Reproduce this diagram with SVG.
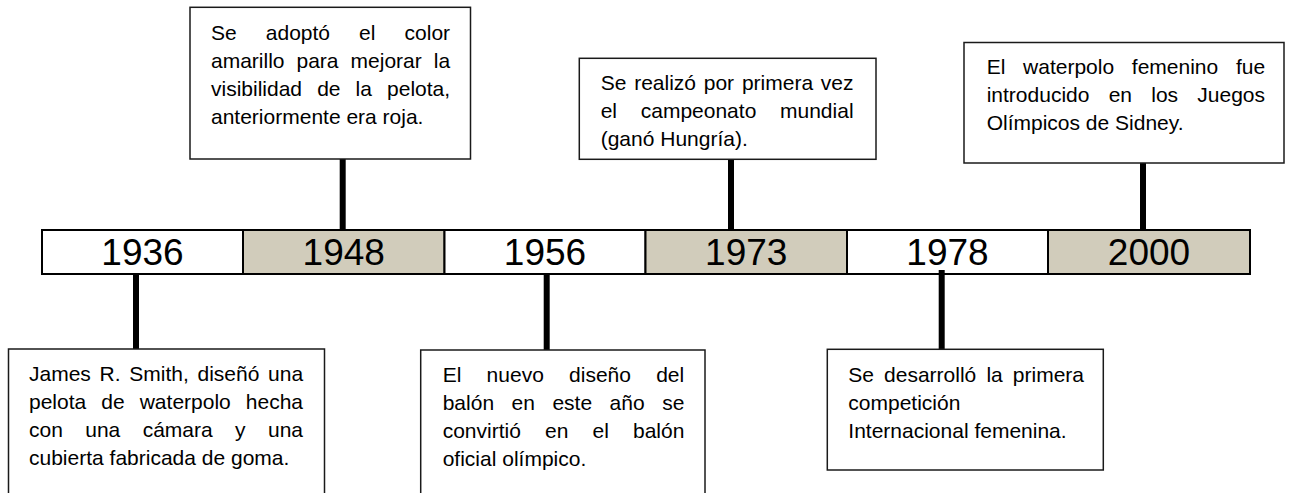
<svg xmlns="http://www.w3.org/2000/svg" width="1290" height="493" viewBox="0 0 1290 493">
<style>
.bg{fill:#ffffff}
.cellw{fill:#ffffff;stroke:#000;stroke-width:2}
.cellb{fill:#d1ccbb;stroke:#000;stroke-width:2}
.year{font-family:"Liberation Sans",Arial,sans-serif;font-size:37px;fill:#000;text-anchor:middle}
.box{fill:#ffffff;stroke:#1a1a1a;stroke-width:1.5}
.txt{font-family:"Liberation Sans",Arial,sans-serif;font-size:21px;fill:#000}
.conn{stroke:#000;stroke-width:6;fill:none}
</style>
<rect class="bg" x="0" y="0" width="1290" height="493"/>

<g id="timeline">
<g id="year-1936"><rect class="cellw" x="42" y="230" width="201" height="44"/><text class="year" x="142.5" y="265">1936</text></g>
<g id="year-1948"><rect class="cellb" x="243" y="230" width="201.5" height="44"/><text class="year" x="343.75" y="265">1948</text></g>
<g id="year-1956"><rect class="cellw" x="444.5" y="230" width="201" height="44"/><text class="year" x="545" y="265">1956</text></g>
<g id="year-1973"><rect class="cellb" x="645.5" y="230" width="201.5" height="44"/><text class="year" x="746.25" y="265">1973</text></g>
<g id="year-1978"><rect class="cellw" x="847" y="230" width="201" height="44"/><text class="year" x="947.5" y="265">1978</text></g>
<g id="year-2000"><rect class="cellb" x="1048" y="230" width="202" height="44"/><text class="year" x="1149" y="265">2000</text></g>
</g>

<g id="connectors">
<line class="conn" x1="342.7" y1="159" x2="342.7" y2="231"/>
<line class="conn" x1="731" y1="159.3" x2="731" y2="231"/>
<line class="conn" x1="1143" y1="163" x2="1143" y2="231"/>
<line class="conn" x1="136" y1="273" x2="136" y2="349"/>
<line class="conn" x1="546.7" y1="273" x2="546.7" y2="350"/>
<line class="conn" x1="941.7" y1="270" x2="941.7" y2="349.3"/>
</g>

<g id="event-1948">
<rect class="box" x="190" y="7.3" width="280.5" height="151.7"/>
<text class="txt" x="211" y="39.5" word-spacing="23.26">Se adoptó el color</text>
<text class="txt" x="211" y="67.5" word-spacing="6.16">amarillo para mejorar la</text>
<text class="txt" x="211" y="95.5" word-spacing="9.26">visibilidad de la pelota,</text>
<text class="txt" x="211" y="123.5">anteriormente era roja.</text>
</g>

<g id="event-1973">
<rect class="box" x="579.3" y="58.3" width="296.7" height="101"/>
<text class="txt" x="600.7" y="90" word-spacing="1.93">Se realizó por primera vez</text>
<text class="txt" x="600.7" y="118" word-spacing="17.86">el campeonato mundial</text>
<text class="txt" x="600.7" y="146">(ganó Hungría).</text>
</g>

<g id="event-2000">
<rect class="box" x="964" y="42.5" width="320" height="120.5"/>
<text class="txt" x="986.7" y="73.5" word-spacing="11.86">El waterpolo femenino fue</text>
<text class="txt" x="986.7" y="101.5" word-spacing="13.4">introducido en los Juegos</text>
<text class="txt" x="986.7" y="129.5">Olímpicos de Sidney.</text>
</g>

<g id="event-1936">
<rect class="box" x="8.5" y="349" width="316" height="160"/>
<text class="txt" x="29" y="380.5" word-spacing="2.86">James R. Smith, diseñó una</text>
<text class="txt" x="29" y="408.5" word-spacing="9.23">pelota de waterpolo hecha</text>
<text class="txt" x="29" y="436.5" word-spacing="16.56">con una cámara y una</text>
<text class="txt" x="29" y="464.5">cubierta fabricada de goma.</text>
</g>

<g id="event-1956">
<rect class="box" x="420.7" y="350" width="284.3" height="160"/>
<text class="txt" x="442.7" y="381.5" word-spacing="19.4">El nuevo diseño del</text>
<text class="txt" x="442.7" y="409.5" word-spacing="11.66">balón en este año se</text>
<text class="txt" x="442.7" y="437.5" word-spacing="18.3">convirtió en el balón</text>
<text class="txt" x="442.7" y="465.5">oficial olímpico.</text>
</g>

<g id="event-1978">
<rect class="box" x="827.3" y="349.3" width="276" height="120.7"/>
<text class="txt" x="848.3" y="381.5" word-spacing="4.26">Se desarrolló la primera</text>
<text class="txt" x="848.3" y="409.5">competición</text>
<text class="txt" x="848.3" y="437.5">Internacional femenina.</text>
</g>
</svg>
